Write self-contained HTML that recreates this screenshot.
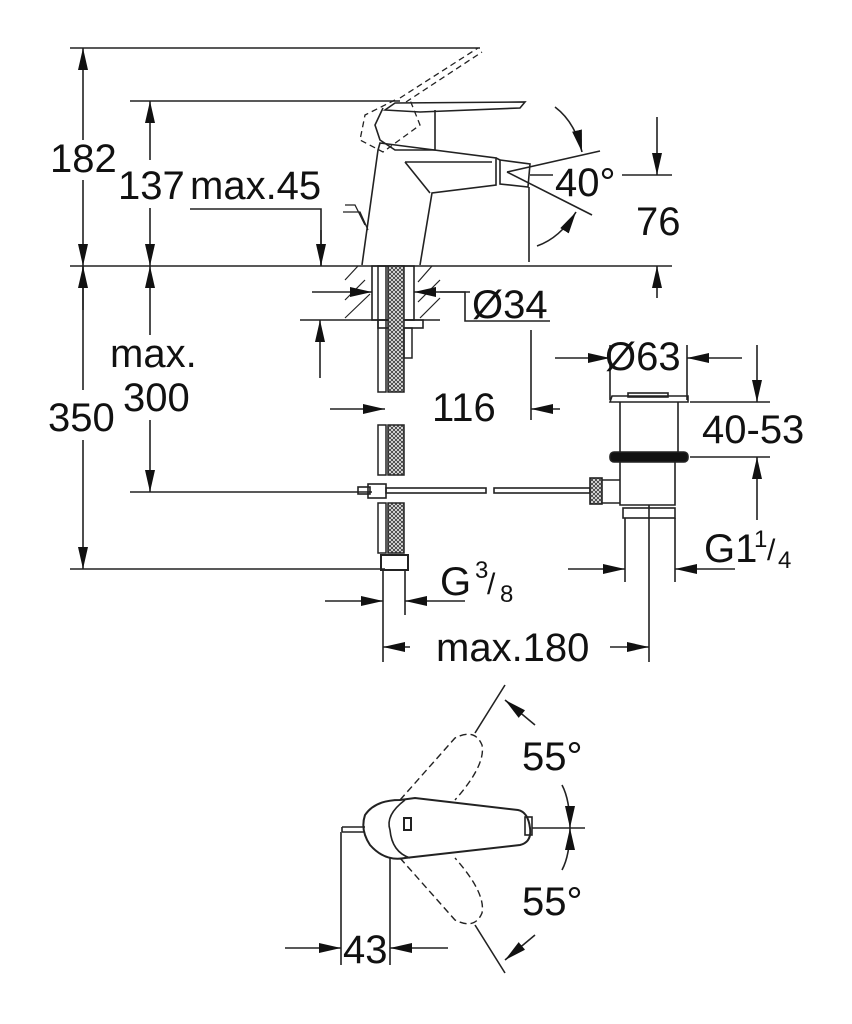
<!DOCTYPE html>
<html><head><meta charset="utf-8"><style>
html,body{margin:0;padding:0;background:#fff;}
svg{display:block;}
text{font-family:"Liberation Sans",sans-serif;fill:#111;font-size:40px;}
</style></head><body>
<svg width="852" height="1024" viewBox="0 0 852 1024" xmlns="http://www.w3.org/2000/svg">
<defs>
<marker id="a" viewBox="0 0 22 10" refX="22" refY="5" markerWidth="22" markerHeight="10" markerUnits="userSpaceOnUse" orient="auto"><path d="M0,0 L22,5 L0,10 z" fill="#111"/></marker>
<pattern id="h" width="4" height="4" patternUnits="userSpaceOnUse"><rect width="4" height="4" fill="#eee"/><path d="M0,4 L4,0 M0,0 L4,4" stroke="#333" stroke-width="0.8"/></pattern>
</defs>
<g stroke="#222" stroke-width="1.6" fill="none">
<line x1="70" y1="48" x2="480" y2="48"/>
<line x1="130" y1="101" x2="400" y2="101"/>
<line x1="70" y1="266" x2="672" y2="266"/>
<line x1="130" y1="492" x2="372" y2="492"/>
<line x1="70" y1="569" x2="385" y2="569"/>
<line x1="83" y1="140" x2="83" y2="48" marker-end="url(#a)"/>
<line x1="83" y1="180" x2="83" y2="266" marker-end="url(#a)"/>
<line x1="83" y1="266" x2="83" y2="330"/>
<line x1="83" y1="310" x2="83" y2="266" marker-end="url(#a)"/>
<line x1="83" y1="440" x2="83" y2="569" marker-end="url(#a)"/>
<line x1="83" y1="390" x2="83" y2="330"/>
<line x1="150" y1="160" x2="150" y2="101" marker-end="url(#a)"/>
<line x1="150" y1="208" x2="150" y2="266" marker-end="url(#a)"/>
<line x1="150" y1="335" x2="150" y2="266" marker-end="url(#a)"/>
<line x1="150" y1="420" x2="150" y2="492" marker-end="url(#a)"/>
<polyline points="190,209 321,209 321,266"/>
<line x1="321" y1="230" x2="321" y2="266" marker-end="url(#a)"/>
<path d="M362,265 L378,150 L380,143 L496,158 L496,185 L432,193 L420,265"/>
<path d="M405,162 L492,162 M405,162 L430,193"/>
<path d="M500,160 L530,164 L528,187 L500,184 Z" />
<line x1="496" y1="158" x2="500" y2="160"/>
<path d="M385,110 L395,103 L525,102 L520,108 L420,112 Z"/>
<path d="M383,108 L375,125 L380,140 L395,150 L435,150 L435,110"/>
<path d="M345,205 L355,205 L365,225 M343,212 L360,212 L368,230" stroke-width="1.3"/>
<g stroke-dasharray="6,4" stroke-width="1.3">
<path d="M400,98 L478,48 M406,102 L482,52 M395,100 L365,115 L360,140 L383,152 L420,125 L410,100"/>
</g>
<line x1="507" y1="172" x2="600" y2="151"/>
<line x1="507" y1="172" x2="592" y2="215"/>
<line x1="530" y1="175" x2="553" y2="175"/>
<line x1="622" y1="175" x2="672" y2="175"/>
<line x1="529" y1="187" x2="529" y2="262"/>
<path d="M555,107 Q575,122 582,152" marker-end="url(#a)"/>
<path d="M537,246 Q560,238 576,212" marker-end="url(#a)"/>
<line x1="657" y1="117" x2="657" y2="175" marker-end="url(#a)"/>
<line x1="657" y1="298" x2="657" y2="266" marker-end="url(#a)"/>
<rect x="372" y="266" width="42" height="54"/>
<g stroke-width="1.2">
<line x1="345" y1="280" x2="358" y2="266"/><line x1="345" y1="300" x2="365" y2="280"/><line x1="345" y1="318" x2="370" y2="294"/>
<line x1="418" y1="282" x2="432" y2="266"/><line x1="418" y1="302" x2="440" y2="280"/><line x1="420" y1="318" x2="440" y2="298"/>
</g>
<line x1="300" y1="320" x2="440" y2="320"/>
<rect x="378" y="320" width="45" height="8"/>
<g stroke-width="1.5">
<rect x="378" y="266" width="8" height="126"/><rect x="388" y="266" width="16" height="126" fill="url(#h)"/>
<rect x="378" y="425" width="8" height="50"/><rect x="388" y="425" width="16" height="50" fill="url(#h)"/>
<rect x="378" y="503" width="8" height="50"/><rect x="388" y="503" width="16" height="50" fill="url(#h)"/>
<rect x="404" y="328" width="8" height="30"/>
<rect x="381" y="555" width="27" height="15" stroke-width="2"/>
</g>
<line x1="312" y1="292" x2="372" y2="292" marker-end="url(#a)"/>
<line x1="470" y1="292" x2="414" y2="292" marker-end="url(#a)"/>
<polyline points="440,292 465,292 465,321 550,321"/>
<line x1="320" y1="378" x2="320" y2="320" marker-end="url(#a)"/>
<line x1="330" y1="409" x2="385" y2="409" marker-end="url(#a)"/>
<line x1="560" y1="409" x2="531" y2="409" marker-end="url(#a)"/>
<line x1="531" y1="330" x2="531" y2="420"/>
<rect x="358" y="487" width="12" height="7"/><rect x="368" y="484" width="18" height="14"/>
<rect x="386" y="488" width="100" height="5"/><rect x="494" y="488" width="96" height="5"/>
<rect x="590" y="478" width="12" height="26" fill="url(#h)"/>
<path d="M610,402 L612,396 L688,396 L688,402 Z"/>
<rect x="628" y="393" width="40" height="4"/>
<path d="M620,402 L620,452 M678,402 L678,452"/>
<rect x="610" y="452" width="78" height="10" rx="4" fill="#111"/>
<path d="M620,462 L620,505 L675,505 L675,462 M602,480 L620,480 M602,503 L620,503"/>
<rect x="623" y="508" width="52" height="10"/>
<line x1="625" y1="518" x2="625" y2="582"/>
<line x1="675" y1="518" x2="675" y2="582"/>
<line x1="649" y1="505" x2="649" y2="662"/>
<line x1="610" y1="345" x2="610" y2="400"/>
<line x1="687" y1="345" x2="687" y2="400"/>
<line x1="555" y1="358" x2="610" y2="358" marker-end="url(#a)"/>
<line x1="742" y1="358" x2="687" y2="358" marker-end="url(#a)"/>
<line x1="690" y1="402" x2="770" y2="402"/>
<line x1="690" y1="457" x2="770" y2="457"/>
<line x1="757" y1="345" x2="757" y2="402" marker-end="url(#a)"/>
<line x1="757" y1="520" x2="757" y2="457" marker-end="url(#a)"/>
<line x1="568" y1="569" x2="625" y2="569" marker-end="url(#a)"/>
<line x1="735" y1="569" x2="675" y2="569" marker-end="url(#a)"/>
<line x1="383" y1="570" x2="383" y2="662"/>
<line x1="405" y1="570" x2="405" y2="615"/>
<line x1="325" y1="601" x2="383" y2="601" marker-end="url(#a)"/>
<line x1="465" y1="601" x2="405" y2="601" marker-end="url(#a)"/>
<line x1="410" y1="647" x2="383" y2="647" marker-end="url(#a)"/>
<line x1="610" y1="647" x2="649" y2="647" marker-end="url(#a)"/>
<path d="M400,800 Q375,800 365,815 Q360,830 370,845 Q385,862 405,858 L520,845 Q532,842 530,828 Q528,812 518,810 L415,798 Z" stroke-width="2"/>
<path d="M405,800 Q385,815 390,830 Q392,852 410,858" />
<rect x="525" y="817" width="7" height="18"/>
<rect x="404" y="818" width="7" height="12" stroke-width="2"/>
<path d="M342,827 L365,827 M342,832 L365,832 M342,827 L342,832"/>
<line x1="532" y1="828" x2="585" y2="828"/>
<g stroke-dasharray="7,4" stroke-width="1.4">
<path d="M400,800 L455,738 Q475,728 482,745 Q486,765 455,800"/>
<path d="M400,858 L455,920 Q475,930 482,913 Q486,893 455,858"/>
</g>
<line x1="475" y1="733" x2="505" y2="685"/>
<line x1="475" y1="925" x2="505" y2="973"/>
<path d="M535,725 L505,700" marker-end="url(#a)"/>
<path d="M535,935 L505,960" marker-end="url(#a)"/>
<path d="M562,785 Q570,800 570,828" marker-end="url(#a)"/>
<path d="M562,870 Q570,855 570,828" marker-end="url(#a)"/>
<line x1="341" y1="832" x2="341" y2="965"/>
<line x1="390" y1="858" x2="390" y2="965"/>
<line x1="285" y1="948" x2="341" y2="948" marker-end="url(#a)"/>
<line x1="448" y1="948" x2="390" y2="948" marker-end="url(#a)"/>
</g>
<text x="50" y="172">182</text>
<text x="118" y="199">137</text>
<text x="190" y="199">max.45</text>
<text x="555" y="196">40°</text>
<text x="636" y="235">76</text>
<text x="472" y="318">Ø34</text>
<text x="110" y="367">max.</text>
<text x="123" y="411">300</text>
<text x="48" y="431">350</text>
<text x="432" y="421">116</text>
<text x="605" y="370">Ø63</text>
<text x="702" y="443">40-53</text>
<text x="704" y="562">G1</text><text x="754" y="547" style="font-size:24px">1</text><text x="767" y="560" style="font-size:30px">/</text><text x="778" y="568" style="font-size:24px">4</text>
<text x="440" y="595">G</text><text x="475" y="578" style="font-size:24px">3</text><text x="487" y="594" style="font-size:30px">/</text><text x="500" y="602" style="font-size:24px">8</text>
<text x="436" y="661">max.180</text>
<text x="522" y="770">55°</text>
<text x="522" y="915">55°</text>
<text x="343" y="963">43</text>
</svg>
</body></html>
